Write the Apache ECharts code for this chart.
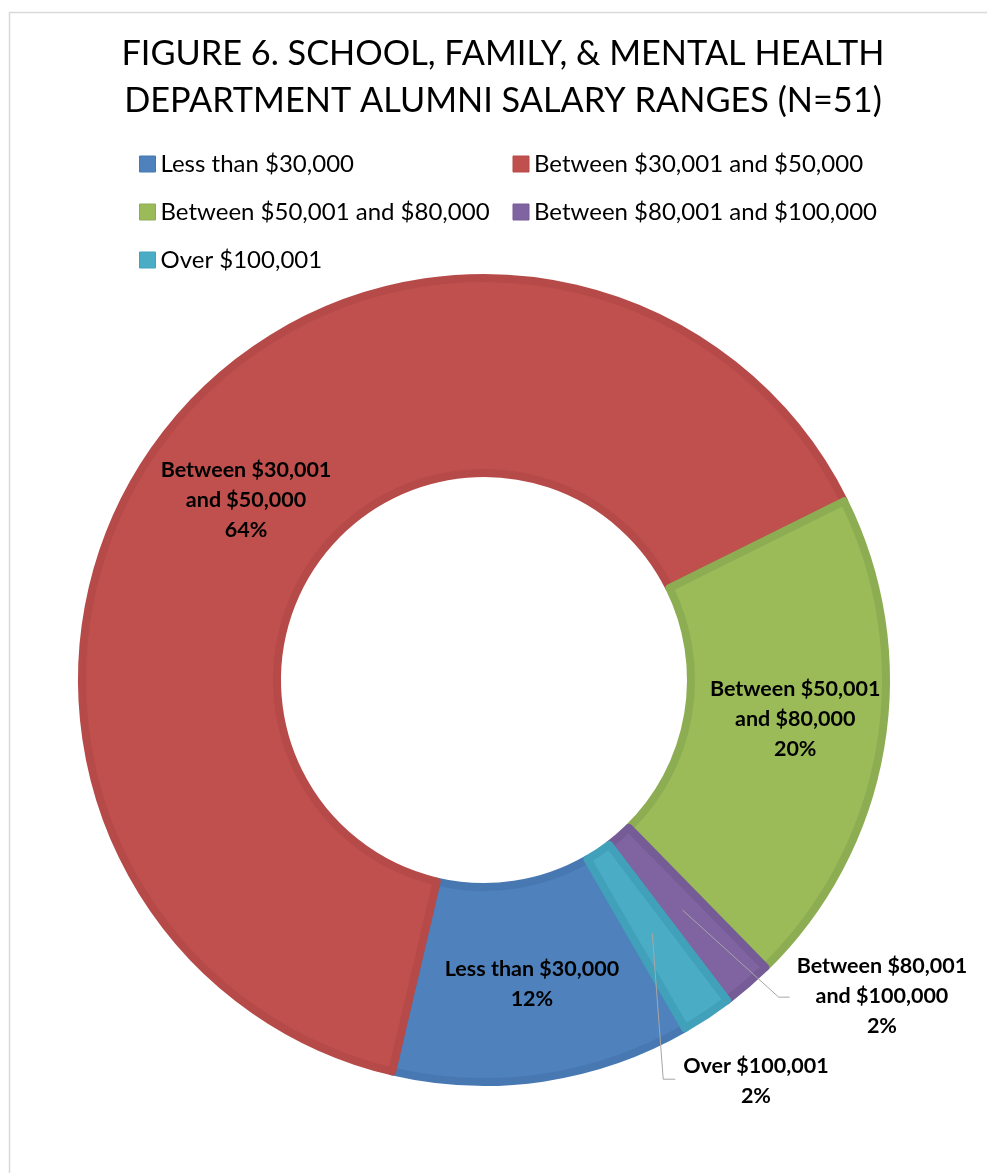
<!DOCTYPE html>
<html>
<head>
<meta charset="utf-8">
<script src="https://cdn.jsdelivr.net/npm/echarts@6/dist/echarts.min.js"></script>
<style>
  html, body { margin: 0; padding: 0; background: #fff; }
  #chart { width: 987px; height: 1173px; }
</style>
</head>
<body>
<div id="chart"></div>
<script>
// salary ranges, counts
const categories = [
  'Less than $30,000',
  'Between $30,001 and $50,000',
  'Between $50,001 and $80,000',
  'Between $80,001 and $100,000',
  'Over $100,001'
]
const counts = [6, 32, 10, 1, 1]

// slice styling (Excel 2007 palette, edge slightly darker)
const fillColors = ['#4F81BD', '#C0504D', '#9BBB59', '#8064A2', '#4BACC6']
const edgeColors = ['#4878B2', '#B64A48', '#8DAD52', '#765C97', '#42A1BA']

// nudges so inside labels sit where Excel put them
const insideNudge = {
  0: [3, 0],
  1: [3, 11],
  2: [8, -12]
}

// small slices get their label outside with a leader line
const outsideLabels = [3, 4]
const leader = {
  3: { bend: [96, 87], tail: 11, gap: 7, dy: -1 },
  4: { bend: [11, 146], tail: 12, gap: 8, dy: 2 }
}

const center = [484, 680]
const labelFont = {
  fontFamily: 'Lato',
  fontWeight: 'bold',
  fontSize: 21.5,
  lineHeight: 30,
  color: '#000'
}

const fmt = (p) => p.name.replace(' and ', '\nand ') + '\n' + Math.round(p.percent) + '%'

const chart = echarts.init(document.getElementById('chart'))

chart.setOption({
  animation: false,
  backgroundColor: '#fff',
  title: {
    text: 'FIGURE 6. SCHOOL, FAMILY, & MENTAL HEALTH\nDEPARTMENT ALUMNI SALARY RANGES (N=51)',
    left: 503,
    top: 30,
    padding: 0,
    textAlign: 'center',
    textStyle: {
      fontFamily: 'Lato',
      fontWeight: 'normal',
      fontSize: 34.3,
      lineHeight: 47,
      color: '#000'
    }
  },
  legend: {
    left: 139,
    top: 151,
    width: 760,
    padding: 0,
    orient: 'horizontal',
    icon: 'rect',
    itemWidth: 16,
    itemHeight: 16,
    itemGap: 22,
    itemStyle: { borderWidth: 1 },
    textStyle: {
      fontFamily: 'Lato',
      fontSize: 24,
      color: '#000',
      width: 330,
      lineHeight: 26
    },
    data: categories
  },
  graphic: [{
    type: 'rect',
    left: 7,
    top: 10,
    silent: true,
    shape: { width: 990, height: 1175 },
    style: { fill: 'none', stroke: '#D9D9D9', lineWidth: 1.5 }
  }],
  series: [
    {
      type: 'pie',
      center: center,
      radius: [207, 402],
      startAngle: -60,
      clockwise: true,
      avoidLabelOverlap: false,
      label: Object.assign({ show: true, position: 'inside', formatter: fmt }, labelFont),
      labelLine: { show: false },
      emphasis: { disabled: true },
      labelLayout: function (p) {
        const n = insideNudge[p.dataIndex]
        return n ? { dx: n[0], dy: n[1] } : {}
      },
      data: categories.map((name, i) => ({
        name: name,
        value: counts[i],
        itemStyle: { color: fillColors[i], borderColor: edgeColors[i], borderWidth: 8 },
        label: { show: !outsideLabels.includes(i) }
      }))
    },
    {
      // invisible copy reaching mid-ring, only used to anchor leader lines
      type: 'pie',
      z: 3,
      silent: true,
      center: center,
      radius: [0, 304],
      startAngle: -60,
      clockwise: true,
      avoidLabelOverlap: false,
      itemStyle: { color: 'rgba(0,0,0,0)' },
      label: Object.assign({ show: true, position: 'outside', formatter: fmt }, labelFont),
      labelLine: { show: true, length: 20, length2: 10, lineStyle: { color: '#A6A6A6', width: 1 } },
      emphasis: { disabled: true },
      labelLayout: function (p) {
        const cfg = leader[p.dataIndex]
        if (!cfg || !p.labelLinePoints) return {}
        const s = p.labelLinePoints[0]
        const b = [s[0] + cfg.bend[0], s[1] + cfg.bend[1]]
        const e = [b[0] + cfg.tail, b[1]]
        return {
          x: e[0] + cfg.gap + p.labelRect.width / 2,
          y: e[1] + cfg.dy,
          align: 'center',
          verticalAlign: 'middle',
          labelLinePoints: [[s[0], s[1]], b, e]
        }
      },
      data: categories.map((name, i) => ({
        name: name,
        value: counts[i],
        label: { show: outsideLabels.includes(i) },
        labelLine: { show: outsideLabels.includes(i) }
      }))
    }
  ]
})
</script>
</body>
</html>
